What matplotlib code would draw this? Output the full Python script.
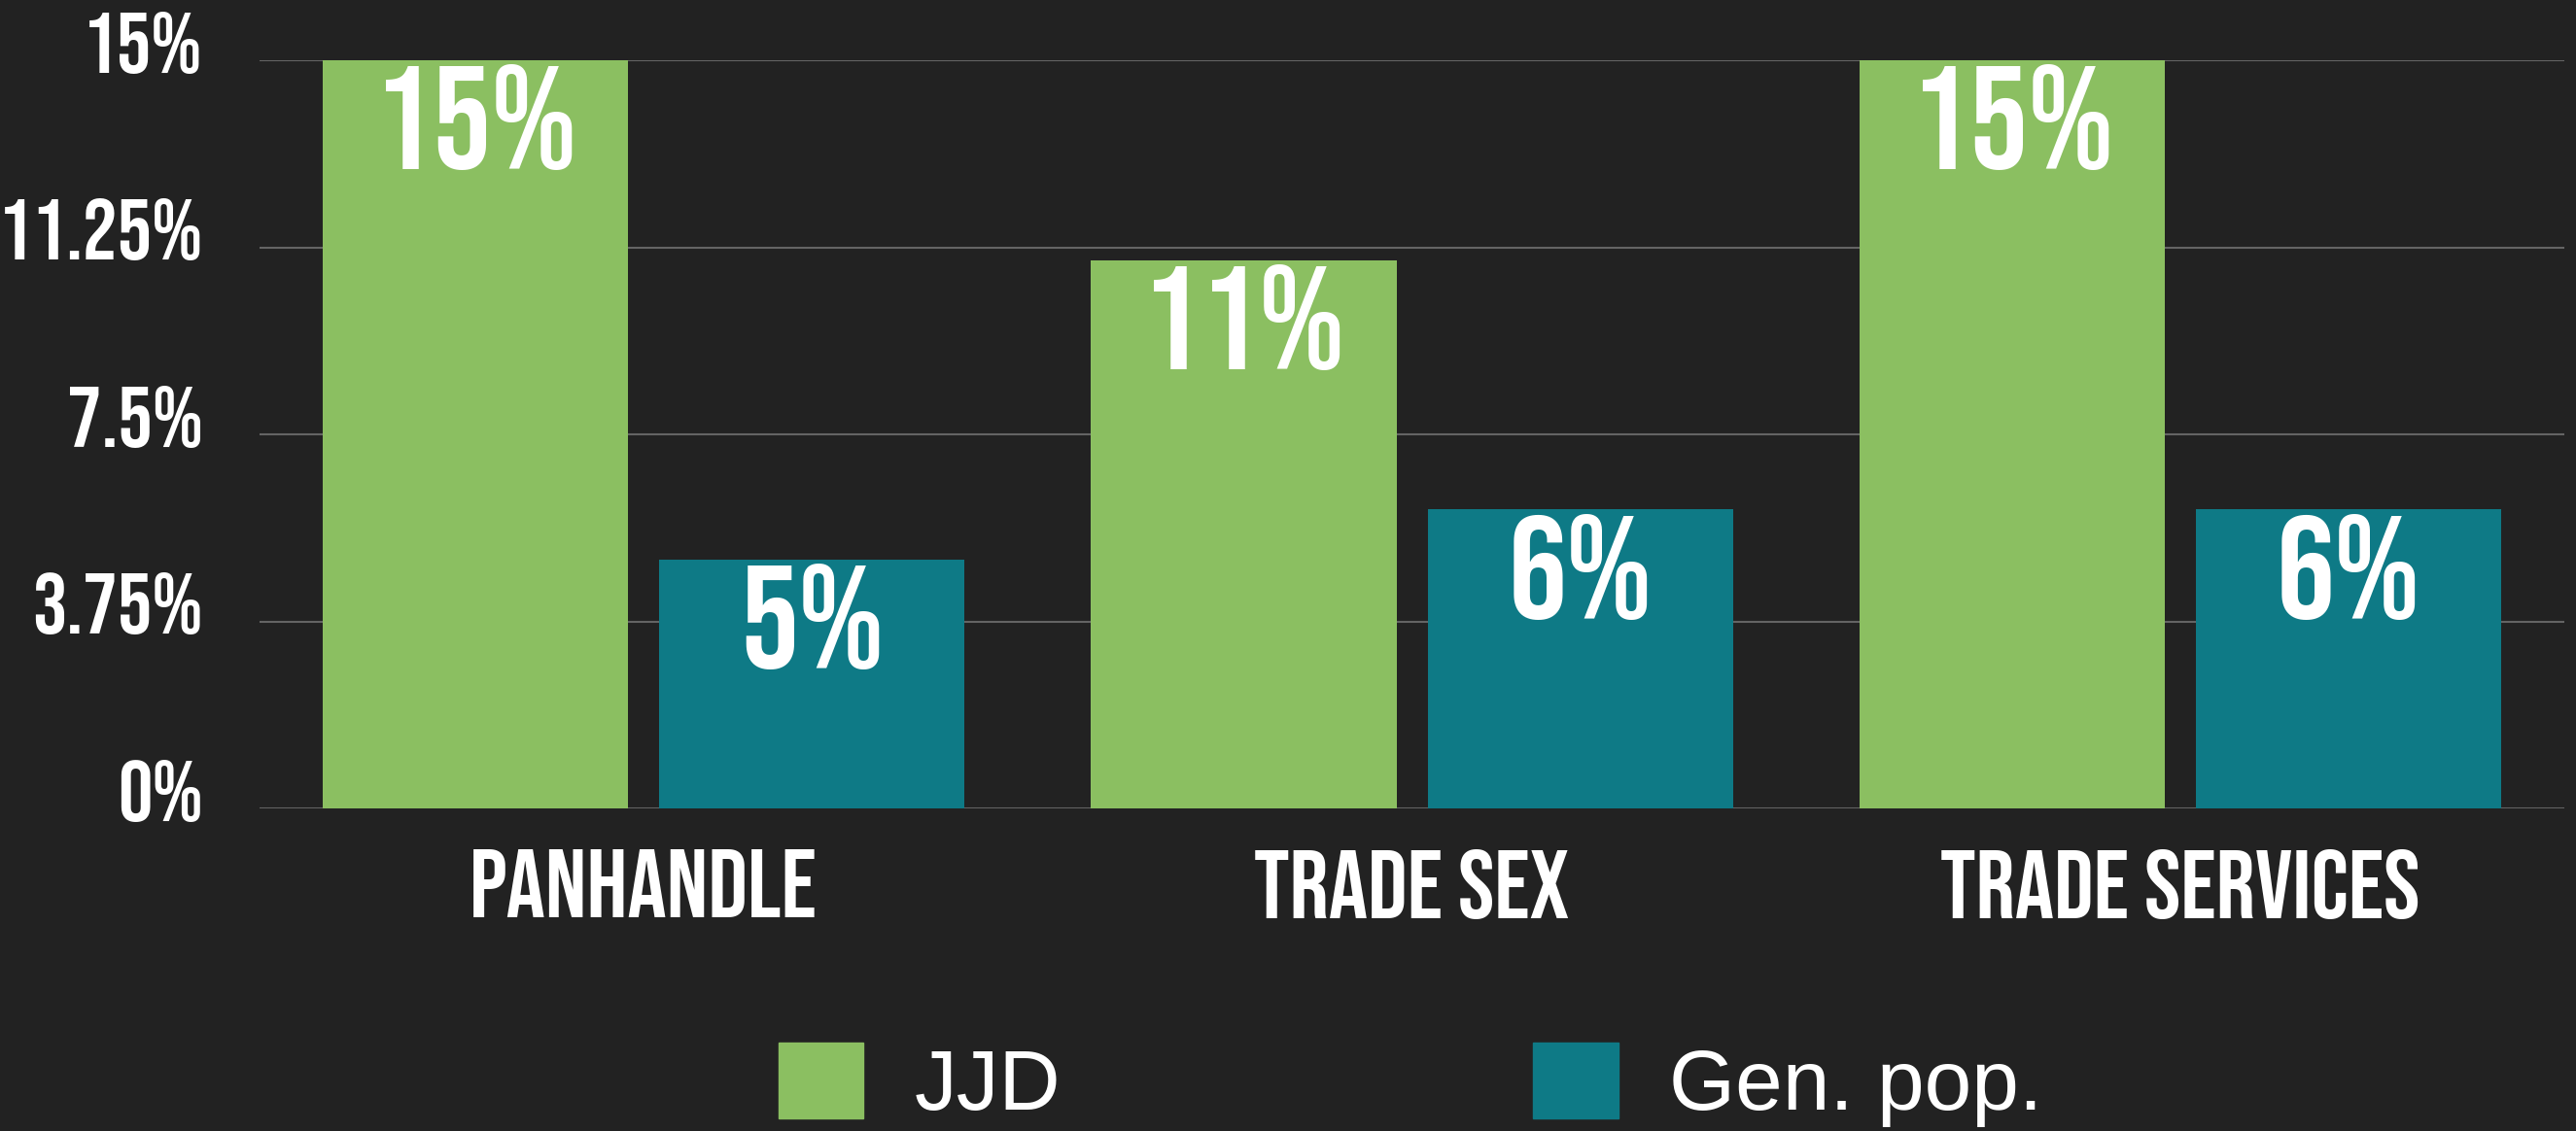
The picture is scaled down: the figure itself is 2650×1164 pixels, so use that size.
import numpy as np
import matplotlib
matplotlib.use("Agg")
import matplotlib.pyplot as plt
import matplotlib.transforms as mtransforms
from matplotlib import font_manager
from matplotlib.patches import Patch

categories = ["PANHANDLE", "TRADE SEX", "TRADE SERVICES"]
jjd = [15, 11, 15]
gen_pop = [5, 6, 6]
series_names = ["JJD", "Gen. pop."]
y_ticks = [0, 3.75, 7.5, 11.25, 15]
y_tick_labels = ["0%", "3.75%", "7.5%", "11.25%", "15%"]

BG = "#222222"
GREEN = "#8bbf61"
TEAL = "#0e7a86"
GRID = "#646464"

installed = {f.name for f in font_manager.fontManager.ttflist}


def first_font(options):
    for name in options:
        if name in installed:
            return name
    return "DejaVu Sans"


cond = first_font(["Bebas Neue", "Barlow Condensed", "Oswald",
                   "Roboto Condensed", "Liberation Sans Narrow"])
plain = first_font(["Liberation Sans", "Arimo"])

fig = plt.figure(figsize=(26.5, 11.64), dpi=100, facecolor=BG)
ax = fig.add_axes([0.1008, 0.2848, 0.8947, 0.6617])
ax.set_facecolor(BG)

x = np.arange(len(categories))
width = 0.3975
offset = 0.219
ax.bar(x - offset, jjd, width, color=GREEN, zorder=3)
ax.bar(x + offset, gen_pop, width, color=TEAL, zorder=3)

ax.set_xlim(-0.5, 2.5)
ax.set_ylim(0, 15)
ax.yaxis.grid(True, color=GRID, linewidth=1.5, zorder=0)
ax.set_axisbelow(True)
for s in ax.spines.values():
    s.set_visible(False)

ax.set_yticks(y_ticks, labels=y_tick_labels)
ax.tick_params(axis="y", length=0, pad=42, labelcolor="white")
for lbl in ax.get_yticklabels():
    lbl.set_fontfamily(cond)
    lbl.set_fontsize(64)
    # nudge the labels up a little above their gridline
    lbl.set_transform(lbl.get_transform() +
                      mtransforms.ScaledTranslation(0, 19 / 100, fig.dpi_scale_trans))

ax.set_xticks(x, labels=categories)
ax.tick_params(axis="x", length=0, pad=30, labelcolor="white")
for lbl in ax.get_xticklabels():
    lbl.set_fontfamily(cond)
    lbl.set_fontsize(72)

# value labels sit just inside the top of each bar
for xs, vals in ((x - offset, jjd), (x + offset, gen_pop)):
    for xi, v in zip(xs, vals):
        ax.annotate(f"{v}%", (xi, v), xytext=(0, -3), textcoords="offset points",
                    ha="center", va="top", color="white", fontsize=108,
                    fontfamily=cond, zorder=4)

handles = [Patch(color=GREEN), Patch(color=TEAL)]
fig.legend(handles, series_names, loc="center left",
           bbox_to_anchor=(801 / 2650, 47.5 / 1164), ncol=2, frameon=False,
           labelcolor="white", prop={"family": plain, "size": 63},
           handlelength=1.0, handleheight=1.0, handletextpad=0.6,
           columnspacing=5.55, borderpad=0, borderaxespad=0)

fig.savefig("out.png", dpi=100, facecolor=BG)
